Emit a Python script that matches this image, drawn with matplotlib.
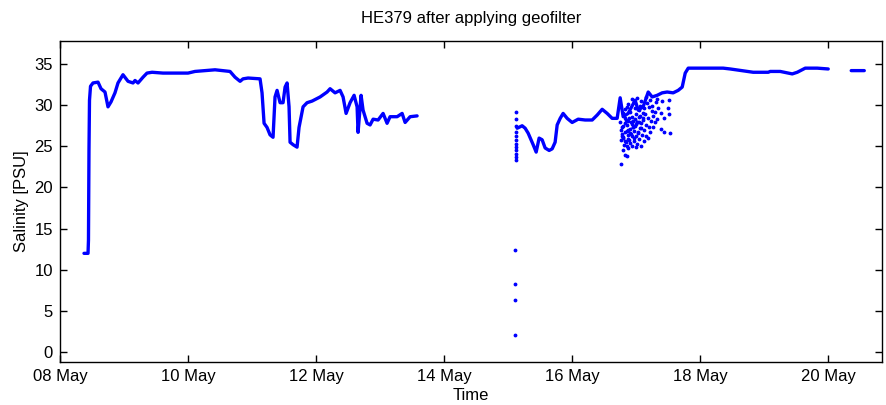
import numpy as np
import matplotlib
matplotlib.use('Agg')
import matplotlib.pyplot as plt
import matplotlib.dates as mdates
from datetime import datetime, timedelta

start = datetime(2012, 5, 8)

# main track, days since 08 May 00:00 (NaN = gap)
track_day = [0.375, 0.438, 0.445, 0.453, 0.461, 0.477, 0.516, 0.594, 0.641, 0.703,
             0.750, 0.797, 0.859, 0.906, 0.984, 1.063, 1.141, 1.172, 1.219, 1.297,
             1.359, 1.438, 1.609, 1.797, 2.000, 2.109, 2.422, 2.656, 2.734, 2.813,
             2.859, 2.938, 3.125, 3.156, 3.188, 3.234, 3.281, 3.328, 3.359, 3.391,
             3.438, 3.484, 3.516, 3.547, 3.578, 3.594, 3.641, 3.703, 3.734, 3.797,
             3.859, 3.938, 4.063, 4.172, 4.219, 4.297, 4.375, 4.422, 4.469, 4.531,
             4.594, 4.641, 4.656, 4.703, 4.734, 4.797, 4.844, 4.891, 4.969, 5.047,
             5.109, 5.156, 5.266, 5.344, 5.391, 5.469, 5.578,
             np.nan,
             7.141, 7.219, 7.266, 7.313, 7.391, 7.438, 7.484, 7.531, 7.578, 7.641,
             7.688, 7.734, 7.766, 7.813, 7.859, 7.922, 8.000, 8.094, 8.203, 8.313,
             8.391, 8.469, 8.547, 8.625, 8.703, 8.750, 8.797, 8.875, 8.984, 9.031,
             9.109, 9.188, 9.250, 9.328, 9.406, 9.484, 9.578, 9.656, 9.719, 9.766,
             9.813, 9.922, 10.359, 10.469, 10.828, 11.063, 11.094, 11.250, 11.438, 11.516,
             11.641, 11.828, 12.000,
             np.nan,
             12.359, 12.563]
track_sal = [12.0, 12.0, 13.6, 24.5, 30.6, 32.3, 32.7, 32.8, 32.0, 31.6,
             29.8, 30.4, 31.5, 32.7, 33.7, 32.9, 32.7, 33.0, 32.7, 33.4,
             33.9, 34.0, 33.9, 33.9, 33.9, 34.1, 34.3, 34.1, 33.4, 32.9,
             33.2, 33.3, 33.2, 31.5, 27.8, 27.3, 26.4, 26.1, 31.0, 31.8,
             30.3, 30.3, 32.2, 32.7, 29.8, 25.5, 25.2, 24.9, 27.3, 29.8,
             30.3, 30.5, 31.0, 31.6, 32.0, 31.5, 31.8, 31.0, 29.0, 30.3,
             31.2, 29.8, 26.7, 31.2, 29.4, 27.8, 27.6, 28.3, 28.2, 29.0,
             27.8, 28.6, 28.6, 29.0, 27.9, 28.6, 28.7,
             np.nan,
             27.2, 27.5, 27.2, 26.6, 25.2, 24.3, 26.0, 25.8, 24.8, 24.5,
             24.7, 25.5, 27.6, 28.4, 29.0, 28.4, 27.9, 28.3, 28.2, 28.2,
             28.8, 29.5, 29.0, 28.4, 28.4, 30.9, 28.6, 29.0, 30.6, 29.4,
             29.8, 31.6, 31.0, 31.2, 31.5, 31.6, 31.5, 31.8, 32.2, 33.9,
             34.5, 34.5, 34.5, 34.4, 34.0, 34.0, 34.1, 34.1, 33.8, 34.0,
             34.5, 34.5, 34.4,
             np.nan,
             34.2, 34.2]

# loose points: spike where the track restarts and the noisy patch near 17 May
dots_day = [7.11, 7.11, 7.11, 7.11,
            7.12, 7.12, 7.12, 7.12, 7.12, 7.12, 7.12, 7.12, 7.12, 7.12, 7.12, 7.12,
            8.76, 8.77, 8.75, 8.78, 8.79, 8.78, 8.80, 8.79, 8.77,
            8.81, 8.80, 8.82, 8.81, 8.83, 8.84, 8.82, 8.84, 8.83,
            8.86, 8.85, 8.87, 8.86, 8.85, 8.88, 8.89, 8.87, 8.89, 8.88,
            8.91, 8.90, 8.92, 8.91, 8.93, 8.94, 8.93, 8.95, 8.94,
            8.96, 8.97, 8.95, 8.98, 8.96, 8.99, 9.00, 8.98, 9.00,
            9.02, 9.03, 9.01, 9.04, 9.02, 9.05, 9.06, 9.04, 9.06,
            9.08, 9.09, 9.07, 9.10, 9.08, 9.12, 9.13, 9.11, 9.13,
            9.15, 9.16, 9.14, 9.17, 9.16, 9.19, 9.20, 9.18, 9.20,
            9.22, 9.23, 9.24, 9.22, 9.26, 9.27, 9.25, 9.30, 9.29, 9.31,
            9.33, 9.34, 9.32, 9.39, 9.38, 9.40, 9.44, 9.43,
            9.51, 9.50, 9.53, 9.52,
            8.80, 8.82, 8.85, 8.87, 8.90, 8.92, 8.95, 8.97, 9.00, 9.03, 9.05, 9.08,
            8.78, 8.83, 8.88, 8.93, 8.98, 9.01, 9.06, 9.11]
dots_sal = [2.1, 6.3, 8.3, 12.4,
            23.3, 23.7, 24.1, 24.5, 24.9, 25.3, 25.8, 26.2, 26.7, 27.5, 28.3, 29.2,
            25.8, 27.0, 28.0, 26.2, 24.6, 26.5, 27.5, 29.0, 22.8,
            25.2, 26.0, 27.8, 28.8, 24.0, 25.5, 26.8, 28.2, 29.5,
            23.8, 25.0, 26.4, 27.6, 29.8, 24.8, 25.8, 27.0, 28.5, 30.2,
            25.4, 26.6, 27.9, 29.2, 30.8, 25.0, 26.2, 27.3, 28.6,
            25.6, 26.9, 28.1, 29.6, 30.4, 24.9, 26.3, 27.5, 28.9,
            25.3, 26.7, 28.0, 29.4, 30.9, 25.9, 27.2, 28.6, 29.9,
            25.1, 26.4, 27.8, 29.1, 30.5, 25.7, 27.0, 28.4, 29.7,
            26.3, 27.6, 28.9, 30.3, 31.0, 26.0, 27.3, 28.5, 29.8,
            26.8, 28.1, 29.3, 30.6, 27.4, 28.7, 29.9, 27.9, 29.2, 30.4,
            28.3, 29.6, 30.8, 27.1, 29.0, 30.5, 26.7, 28.5,
            30.6, 29.6, 26.6, 28.9,
            26.1, 25.6, 26.9, 25.9, 27.1, 26.5, 27.4, 26.0, 27.7, 26.6, 28.0, 27.2,
            27.3, 28.4, 28.1, 27.7, 28.3, 27.9, 28.7, 28.2]

xtick_days = [0, 2, 4, 6, 8, 10, 12]


def day_to_num(days):
    base = mdates.date2num(start)
    return base + np.asarray(days, dtype=float)


def main():
    plt.rcParams['font.family'] = ['Liberation Sans', 'DejaVu Sans']
    plt.rcParams['font.size'] = 12

    fig = plt.figure(figsize=(8.86, 4.05), dpi=100)
    ax = fig.add_axes([0.0677, 0.1062, 0.9278, 0.7926])

    ax.plot(day_to_num(track_day), track_sal, color='b', linewidth=2.4, solid_capstyle='round')
    ax.plot(day_to_num(dots_day), dots_sal, '.', color='b', markersize=3.5)

    ax.set_xlim(day_to_num(0), day_to_num(12.84))
    ax.set_ylim(-1.2, 37.8)
    ax.set_xticks(day_to_num(xtick_days))
    ax.xaxis.set_major_formatter(mdates.DateFormatter('%d %b'))
    ax.set_yticks(range(0, 36, 5))
    ax.tick_params(direction='in', top=True, right=True, length=5, width=1, pad=5)
    for s in ax.spines.values():
        s.set_linewidth(1)

    ax.set_xlabel('Time', labelpad=3)
    ax.set_ylabel('Salinity [PSU]', labelpad=4)
    ax.set_title('HE379 after applying geofilter', fontsize=12, pad=13)

    fig.savefig('out.png', dpi=100)


if __name__ == "__main__":
    main()
